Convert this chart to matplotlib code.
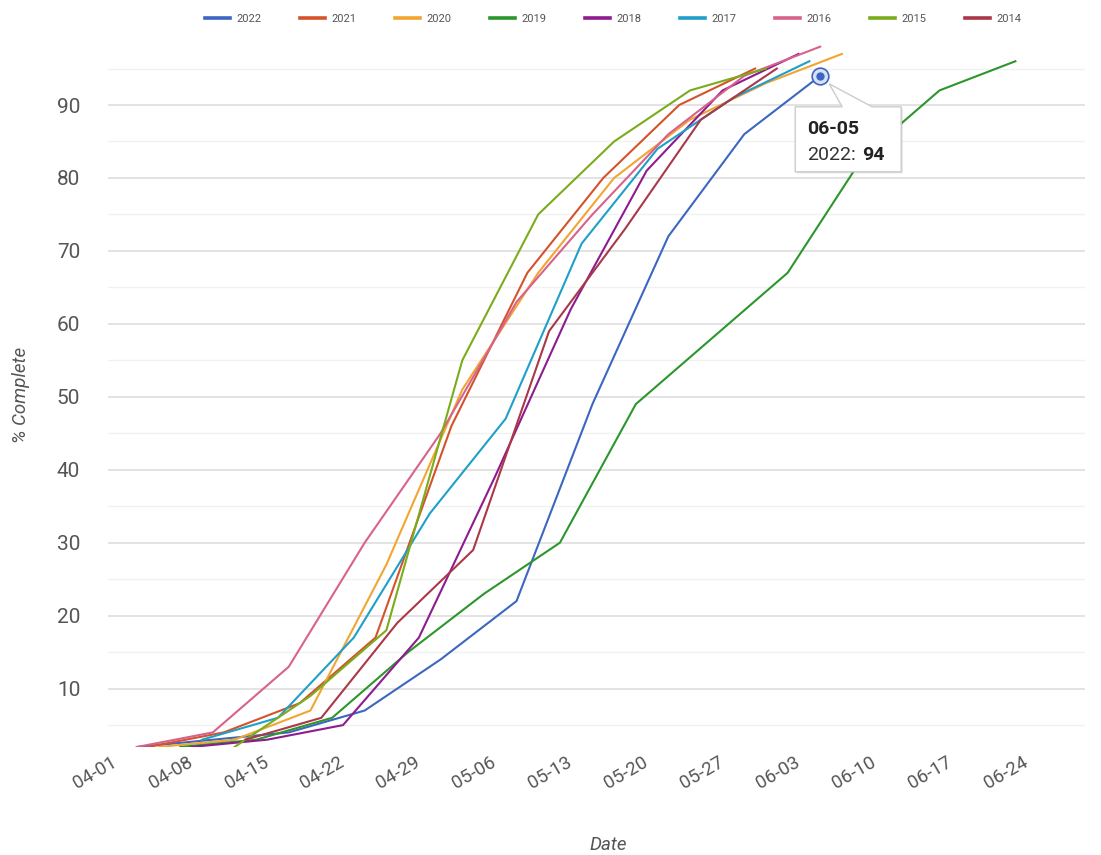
import pandas as pd
import numpy as np
import matplotlib.pyplot as plt
import matplotlib as mpl
import matplotlib.dates as mdates
import matplotlib.transforms as mtransforms
from matplotlib.patches import Polygon

# ======================
# style
# ======================
mpl.rcParams["font.family"] = ["Roboto", "DejaVu Sans"]
mpl.rcParams["axes.unicode_minus"] = False

# ======================
# data (weekly planting progress, % complete)
# ======================
years = ["2022", "2021", "2020", "2019", "2018", "2017", "2016", "2015", "2014"]

dates_2022 = ["04-03", "04-10", "04-17", "04-24", "05-01", "05-08", "05-15", "05-22", "05-29", "06-05"]
vals_2022 = [2, 3, 4, 7, 14, 22, 49, 72, 86, 94]

dates_2021 = ["04-04", "04-11", "04-18", "04-25", "05-02", "05-09", "05-16", "05-23", "05-30"]
vals_2021 = [2, 4, 8, 17, 46, 67, 80, 90, 95]

dates_2020 = ["04-05", "04-12", "04-19", "04-26", "05-03", "05-10", "05-17", "05-24", "05-31", "06-07"]
vals_2020 = [2, 3, 7, 27, 51, 67, 80, 88, 93, 97]

dates_2019 = ["04-07", "04-14", "04-21", "04-28", "05-05", "05-12", "05-19", "05-26", "06-02", "06-09", "06-16", "06-23"]
vals_2019 = [2, 3, 6, 15, 23, 30, 49, 58, 67, 83, 92, 96]

dates_2018 = ["04-08", "04-15", "04-22", "04-29", "05-06", "05-13", "05-20", "05-27", "06-03"]
vals_2018 = [2, 3, 5, 17, 39, 62, 81, 92, 97]

dates_2017 = ["04-09", "04-16", "04-23", "04-30", "05-07", "05-14", "05-21", "05-28", "06-04"]
vals_2017 = [3, 6, 17, 34, 47, 71, 84, 91, 96]

dates_2016 = ["04-03", "04-10", "04-17", "04-24", "05-01", "05-08", "05-15", "05-22", "05-29", "06-05"]
vals_2016 = [2, 4, 13, 30, 45, 63, 75, 86, 94, 98]

dates_2015 = ["04-12", "04-19", "04-26", "05-03", "05-10", "05-17", "05-24", "05-31"]
vals_2015 = [2, 9, 18, 55, 75, 85, 92, 95]

dates_2014 = ["04-13", "04-20", "04-27", "05-04", "05-11", "05-18", "05-25", "06-01"]
vals_2014 = [3, 6, 19, 29, 59, 73, 88, 95]

series = {
    "2022": (dates_2022, vals_2022),
    "2021": (dates_2021, vals_2021),
    "2020": (dates_2020, vals_2020),
    "2019": (dates_2019, vals_2019),
    "2018": (dates_2018, vals_2018),
    "2017": (dates_2017, vals_2017),
    "2016": (dates_2016, vals_2016),
    "2015": (dates_2015, vals_2015),
    "2014": (dates_2014, vals_2014),
}

tick_labels = ["04-01", "04-08", "04-15", "04-22", "04-29", "05-06", "05-13",
               "05-20", "05-27", "06-03", "06-10", "06-17", "06-24"]

tooltip_year = "2022"
tooltip_date = "06-05"
tooltip_value = 94

color_map = {
    "2022": "#3c66c2",
    "2021": "#d4532c",
    "2020": "#f2a531",
    "2019": "#2c962c",
    "2018": "#8e1c8e",
    "2017": "#1f9fc9",
    "2016": "#d8628c",
    "2015": "#7aac1c",
    "2014": "#aa3848",
}


def to_dt(md):
    return pd.to_datetime("2022-" + md)


# ======================
# figure
# ======================
fig = plt.figure(figsize=(11.01, 8.55), dpi=100)
ax = fig.add_axes([108 / 1101, 108 / 855, 977 / 1101, 704 / 855])

for y in years:
    d, v = series[y]
    ax.plot([to_dt(s) for s in d], v, color=color_map[y], linewidth=1.5,
            label=y, zorder=3)

# ======================
# axes
# ======================
ax.set_ylim(2, 98.5)
ax.set_xlim(to_dt("04-01") - pd.Timedelta(hours=16), to_dt("06-29") + pd.Timedelta(hours=10))

ax.set_yticks([10, 20, 30, 40, 50, 60, 70, 80, 90])
ax.set_yticks([5, 15, 25, 35, 45, 55, 65, 75, 85, 95], minor=True)
ax.grid(which="major", axis="y", color="#e0e0e0", linewidth=1.3, zorder=0)
ax.grid(which="minor", axis="y", color="#f1f1f1", linewidth=1.0, zorder=0)

ax.set_xticks([to_dt(t) for t in tick_labels])
ax.set_xticklabels(tick_labels, rotation=30, ha="right", va="center",
                   rotation_mode="anchor")
ax.tick_params(axis="x", length=0, pad=10, labelsize=13.5, labelcolor="#555555")
ax.tick_params(axis="y", which="both", length=0, pad=20, labelsize=15, labelcolor="#555555")

for sp in ax.spines.values():
    sp.set_visible(False)

ax.set_xlabel("Date", fontsize=13.5, style="italic", color="#555555")
ax.xaxis.set_label_coords(0.512, -0.126)
ax.set_ylabel("% Complete", fontsize=13.5, style="italic", color="#555555", labelpad=19)

# ======================
# legend
# ======================
fig.legend(loc="upper center", bbox_to_anchor=(0.557, 0.995), ncol=9,
           frameon=False, fontsize=8, handlelength=2.3, handletextpad=0.6,
           columnspacing=3.4, labelcolor="#555555")
for ln in fig.legends[0].get_lines():
    ln.set_linewidth(2.6)

# ======================
# tooltip
# ======================
tx = to_dt(tooltip_date)
ty = tooltip_value
base = fig.dpi_scale_trans + mtransforms.ScaledTranslation(
    mdates.date2num(tx), ty, ax.transData)


def px(pts):
    return [(a / 100.0, -b / 100.0) for a, b in pts]


shape = [(-25, 31), (22, 31), (9, 8), (52, 31), (81, 31), (81, 96), (-25, 96)]
shadow = Polygon(px([(a + 1.5, b + 1.5) for a, b in shape]), closed=True,
                 facecolor="#000000", alpha=0.12, edgecolor="none",
                 transform=base, zorder=5, clip_on=False)
box = Polygon(px(shape), closed=True, facecolor="white", edgecolor="#cccccc",
              linewidth=1.0, transform=base, zorder=6, clip_on=False)
ax.add_patch(shadow)
ax.add_patch(box)

ax.plot([tx], [ty], marker="o", markersize=12, markerfacecolor="#d9e2f5",
        markeredgecolor="#3c66c2", markeredgewidth=1.2, zorder=7, clip_on=False)
ax.plot([tx], [ty], marker="o", markersize=5, markerfacecolor="#3c66c2",
        markeredgecolor="#3c66c2", zorder=8, clip_on=False)

ax.text(-13 / 100.0, -53 / 100.0, tooltip_date, transform=base, fontsize=14,
        fontweight="bold", color="#222222", va="center", ha="left", zorder=9)
ax.text(-13 / 100.0, -79 / 100.0, tooltip_year + ":", transform=base,
        fontsize=14, color="#333333", va="center", ha="left", zorder=9)
ax.text(42 / 100.0, -79 / 100.0, str(tooltip_value), transform=base,
        fontsize=14, fontweight="bold", color="#222222", va="center",
        ha="left", zorder=9)

plt.savefig("out.png", dpi=100)
